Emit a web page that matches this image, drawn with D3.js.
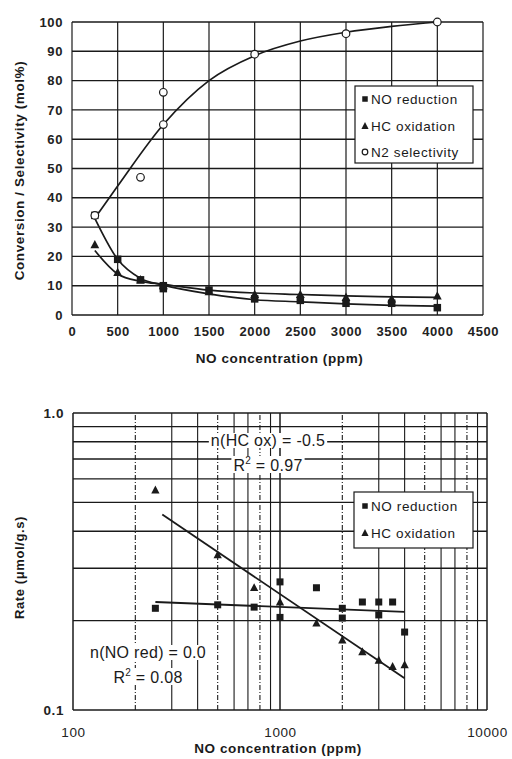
<!DOCTYPE html>
<html>
<head>
<meta charset="utf-8">
<script src="https://cdn.jsdelivr.net/npm/d3@7"></script>
<style>
  body { margin: 0; background: #fff; }
  svg { font-family: "Liberation Sans", Arial, sans-serif; }
  .tick text { font-weight: bold; fill: #222; letter-spacing: 0.6px; }
</style>
</head>
<body>
<div id="chart"></div>
<script>
// ---- top chart: conversion / selectivity vs NO concentration
const topX = [250, 500, 750, 1000, 1500, 2000, 2500, 3000, 3500, 4000];
const noRed = [34, 19, 12, 10, 8.5, 5.5, 5, 4, 4, 2.5];
const noRedExtra = [[1000, 9]];
const hcOx = [24, 14.5, 12, 10, 8, 7, 7, 6, 5.5, 6.5];
const n2Sel = [[250, 34], [750, 47], [1000, 76], [1000, 65], [2000, 89], [3000, 96], [4000, 100]];

// fitted trend curves
const noRedFit = [33, 19, 12.5, 10.2, 7.2, 5.2, 4.5, 3.8, 3.3, 3];
const hcOxFit = [22, 14, 11.5, 10.5, 8.5, 7.5, 7, 6.5, 6.2, 6];
const n2FitX = [250, 500, 1000, 1500, 2000, 2500, 3000, 3500, 4000];
const n2Fit = [33, 44, 65, 80, 88.5, 93.5, 96.5, 98.5, 100];

const topXTicks = [0, 500, 1000, 1500, 2000, 2500, 3000, 3500, 4000, 4500];
const topYTicks = [0, 10, 20, 30, 40, 50, 60, 70, 80, 90, 100];

// ---- bottom chart: rate vs NO concentration (log-log)
const rateX = [250, 500, 750, 1000, 1500, 2000, 2500, 3000, 3500, 4000];
const rateNO = [0.22, 0.226, 0.222, 0.27, 0.258, 0.22, 0.231, 0.231, 0.231, 0.183];
const rateNOExtra = [[1000, 0.205], [2000, 0.204], [3000, 0.209]];
const rateHC = [0.55, 0.333, 0.258, 0.231, 0.196, 0.172, 0.157, 0.147, 0.14, 0.142];
const noFitLine = [[250, 0.231], [4000, 0.214]];
const hcFitLine = [[270, 0.455], [4000, 0.128]];

const logXTicks = [100, 1000, 10000];
const logYTicks = [0.1, 1.0];

const W = 512, H = 759;
const svg = d3.select("#chart").append("svg").attr("width", W).attr("height", H);

const ink = "#1a1a1a";

function square(g, x, y, s) {
    g.append("rect").attr("x", x - s / 2).attr("y", y - s / 2)
        .attr("width", s).attr("height", s).attr("fill", ink);
}
function triangle(g, x, y, s) {
    g.append("path")
        .attr("d", `M${x},${y - s * 0.6}L${x + s * 0.55},${y + s * 0.45}L${x - s * 0.55},${y + s * 0.45}Z`)
        .attr("fill", ink);
}
function circle(g, x, y, r) {
    g.append("circle").attr("cx", x).attr("cy", y).attr("r", r)
        .attr("fill", "#fff").attr("stroke", ink).attr("stroke-width", 1.2);
}
function label(g, x, y, txt, size, bold, anchor) {
    return g.append("text").attr("x", x).attr("y", y)
        .attr("text-anchor", anchor || "start")
        .style("font-size", size + "px")
        .style("font-weight", bold ? "bold" : "normal")
        .style("letter-spacing", "0.6px")
        .attr("fill", ink).text(txt);
}

// ================= TOP =================
const x1 = d3.scaleLinear().domain([0, 4500]).range([72, 483]);
const y1 = d3.scaleLinear().domain([0, 100]).range([315, 22]);
const topG = svg.append("g");

// grid
topG.append("g").selectAll("line").data(topXTicks).enter().append("line")
    .attr("x1", d => x1(d)).attr("x2", d => x1(d))
    .attr("y1", y1(0)).attr("y2", y1(100))
    .attr("stroke", ink).attr("stroke-width", 1.2);
topG.append("g").selectAll("line").data(topYTicks).enter().append("line")
    .attr("x1", x1(0)).attr("x2", x1(4500))
    .attr("y1", d => y1(d)).attr("y2", d => y1(d))
    .attr("stroke", ink).attr("stroke-width", 1.4);

// axes labels
topG.append("g").attr("transform", `translate(0,${y1(0)})`)
    .call(d3.axisBottom(x1).tickValues(topXTicks).tickSize(0).tickPadding(12).tickFormat(d3.format("d")))
    .call(g => g.select(".domain").remove())
    .selectAll("text").style("font-size", "13px");
topG.append("g").attr("transform", `translate(${x1(0)},0)`)
    .call(d3.axisLeft(y1).tickValues(topYTicks).tickSize(0).tickPadding(9))
    .call(g => g.select(".domain").remove())
    .selectAll("text").style("font-size", "13px");

label(topG, x1(2250) + 2, 363, "NO concentration (ppm)", 13.5, true, "middle");
label(topG, 0, 0, "Conversion / Selectivity (mol%)", 13.5, true, "middle")
    .attr("transform", `translate(24,${y1(50) + 2}) rotate(-90)`);

// curves
const lineTop = d3.line().x(d => x1(d[0])).y(d => y1(d[1])).curve(d3.curveMonotoneX);
[d3.zip(topX, noRedFit), d3.zip(topX, hcOxFit), d3.zip(n2FitX, n2Fit)].forEach(pts => {
    topG.append("path").datum(pts).attr("d", lineTop)
        .attr("fill", "none").attr("stroke", ink).attr("stroke-width", 1.7);
});

// markers
topX.forEach((v, i) => square(topG, x1(v), y1(noRed[i]), 7.5));
noRedExtra.forEach(d => square(topG, x1(d[0]), y1(d[1]), 7.5));
topX.forEach((v, i) => triangle(topG, x1(v), y1(hcOx[i]), 8));
n2Sel.forEach(d => circle(topG, x1(d[0]), y1(d[1]), 3.8));

// legend
const lg1 = topG.append("g");
lg1.append("rect").attr("x", 355).attr("y", 86).attr("width", 118).attr("height", 77)
    .attr("fill", "#fff").attr("stroke", ink).attr("stroke-width", 1.2);
square(lg1, 365, 99, 5.5);
label(lg1, 371, 104, "NO reduction", 13.5);
triangle(lg1, 365, 126, 6.5);
label(lg1, 371, 131, "HC oxidation", 13.5);
circle(lg1, 365, 152, 2.8);
label(lg1, 371, 157, "N2 selectivity", 13.5);

// ================= BOTTOM =================
const x2 = d3.scaleLog().domain([100, 10000]).range([73, 487]);
const y2 = d3.scaleLog().domain([0.1, 1]).range([710, 413]);
const botG = svg.append("g");

const vGrid = d3.range(1, 10).map(k => k * 100).concat(d3.range(1, 11).map(k => k * 1000));
const hGrid = d3.range(1, 11).map(k => k / 10);
botG.append("g").selectAll("line").data(vGrid).enter().append("line")
    .attr("x1", d => x2(d)).attr("x2", d => x2(d))
    .attr("y1", y2(0.1)).attr("y2", y2(1))
    .attr("stroke", ink)
    .attr("stroke-width", d => (d === 100 || d === 1000 || d === 10000) ? 1.5 : 1.1)
    .attr("stroke-dasharray", (d, i) => (i % 3 === 1) ? "5,2,1,2" : null);
botG.append("g").selectAll("line").data(hGrid).enter().append("line")
    .attr("x1", x2(100)).attr("x2", x2(10000))
    .attr("y1", d => y2(d)).attr("y2", d => y2(d))
    .attr("stroke", ink).attr("stroke-width", 1.4);

botG.append("g").attr("transform", `translate(0,${y2(0.1)})`)
    .call(d3.axisBottom(x2).tickValues(logXTicks).tickSize(0).tickPadding(17).tickFormat(d3.format("d")))
    .call(g => g.select(".domain").remove())
    .selectAll("text").style("font-size", "13.5px").style("font-weight", "normal");
botG.append("g").attr("transform", `translate(${x2(100)},0)`)
    .call(d3.axisLeft(y2).tickValues(logYTicks).tickSize(0).tickPadding(9).tickFormat(d3.format(".1f")))
    .call(g => g.select(".domain").remove())
    .selectAll("text").style("font-size", "13.5px");

label(botG, 278, 753, "NO concentration (ppm)", 13.5, true, "middle");
label(botG, 0, 0, "Rate (μmol/g.s)", 13, true, "middle")
    .attr("transform", `translate(24,${(y2(0.1) + y2(1)) / 2 + 6}) rotate(-90)`);

// annotations: text lines knock out the grid behind them
function noteLine(g, cx, base, build) {
    const t = g.append("text").attr("x", cx).attr("y", base).attr("text-anchor", "middle")
        .style("font-size", "16px").style("letter-spacing", "0.3px").attr("fill", ink);
    build(t);
    const b = t.node().getBBox();
    g.insert("rect", () => t.node()).attr("x", b.x - 2).attr("y", b.y + 1)
        .attr("width", b.width + 4).attr("height", b.height - 2).attr("fill", "#fff");
}
function note(g, cx, base, lines) {
    noteLine(g, cx, base, t => t.text(lines[0]));
    noteLine(g, cx, base + 25, t => {
        t.append("tspan").text("R");
        t.append("tspan").attr("dy", -7).style("font-size", "10px").text("2");
        t.append("tspan").attr("dy", 7).text(" = " + lines[1]);
    });
}
note(botG, 268, 446, ["n(HC ox) = -0.5", "0.97"]);
note(botG, 148, 658, ["n(NO red) = 0.0", "0.08"]);

// fit lines
const lineBot = d3.line().x(d => x2(d[0])).y(d => y2(d[1]));
[noFitLine, hcFitLine].forEach(pts => {
    botG.append("path").datum(pts).attr("d", lineBot)
        .attr("fill", "none").attr("stroke", ink).attr("stroke-width", 1.8);
});

rateX.forEach((v, i) => square(botG, x2(v), y2(rateNO[i]), 7));
rateNOExtra.forEach(d => square(botG, x2(d[0]), y2(d[1]), 7));
rateX.forEach((v, i) => triangle(botG, x2(v), y2(rateHC[i]), 7.5));

const lg2 = botG.append("g");
lg2.append("rect").attr("x", 354).attr("y", 492).attr("width", 119).attr("height", 56)
    .attr("fill", "#fff").attr("stroke", ink).attr("stroke-width", 1.2);
square(lg2, 365, 506, 5.5);
label(lg2, 371, 511, "NO reduction", 13.5);
triangle(lg2, 365, 533, 6.5);
label(lg2, 371, 538, "HC oxidation", 13.5);
</script>
</body>
</html>
